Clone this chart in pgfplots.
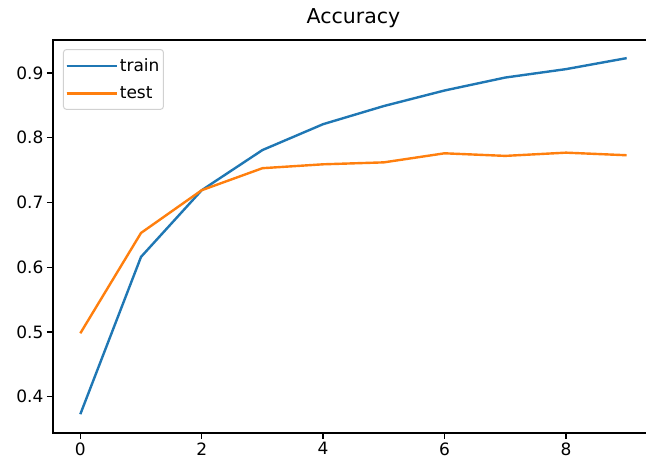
\documentclass[border=0pt]{standalone}
\usepackage{fontspec}
\setmainfont{DejaVu Sans}
\usepackage{pgfplots}
\pgfplotsset{compat=1.18}

\definecolor{mplblue}{HTML}{1F77B4}
\definecolor{mplorange}{HTML}{FF7F0E}

\begin{document}
\begin{tikzpicture}
\begin{axis}[
	at={(0pt,0pt)}, anchor=south west,
	scale only axis,
	width=601pt, height=393pt,
	xmin=-0.45, xmax=9.45,
	ymin=0.344, ymax=0.951,
	xtick={0,2,4,6,8},
	ytick={0.4,0.5,0.6,0.7,0.8,0.9},
	yticklabel style={/pgf/number format/fixed,/pgf/number format/precision=1},
	/pgf/number format/assume math mode=true,
	tick label style={font=\fontsize{17}{20}\selectfont},
	tick align=outside,
	xtick pos=bottom, ytick pos=left,
	major tick length=6pt,
	tick style={line width=1.3pt, black},
	axis line style={line width=1.3pt, black},
	title={Accuracy},
	title style={font=\fontsize{20.5}{24}\selectfont, yshift=3pt},
	legend cell align=left,
	legend style={at={(0.0166,0.977)}, anchor=north west,
		draw=black!18, line width=1pt, rounded corners=3pt, fill=white,
		font=\fontsize{17}{20}\selectfont,
		inner xsep=2pt, inner ysep=7pt, row sep=10pt},
	legend image code/.code={
		\draw[#1] (0pt,0pt) -- (38pt,0pt);
		\path (0pt,0pt) -- (50pt,0pt);
	},
	every axis plot/.append style={line width=2.4pt},
]
\addplot[mplblue, mark=none] coordinates {
	(0,0.373) (1,0.616) (2,0.719) (3,0.781) (4,0.821)
	(5,0.849) (6,0.873) (7,0.893) (8,0.906) (9,0.923)};
\addlegendentry{train}
\addplot[mplorange, mark=none] coordinates {
	(0,0.498) (1,0.653) (2,0.719) (3,0.753) (4,0.759)
	(5,0.762) (6,0.776) (7,0.772) (8,0.777) (9,0.773)};
\addlegendentry{test}
\end{axis}
% top spine again, a bit heavier so it survives rasterising
\draw[line width=1.6pt, black] (0pt,0pt) rectangle (601pt,393pt);
\pgfresetboundingbox
\useasboundingbox (-53pt,-28pt) rectangle (593pt,433pt);
\end{tikzpicture}
\end{document}
